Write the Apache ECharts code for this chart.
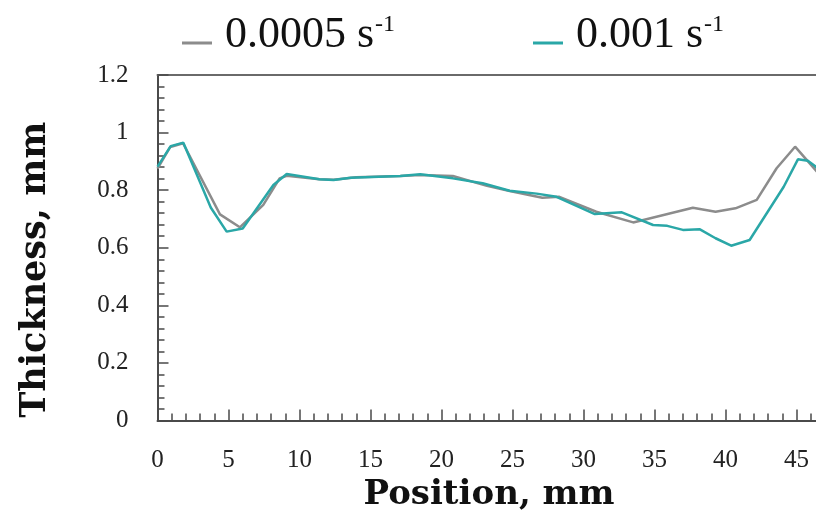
<!DOCTYPE html>
<html>
<head>
<meta charset="utf-8">
<script src="https://cdn.jsdelivr.net/npm/echarts@6/dist/echarts.min.js"></script>
<style>html,body{margin:0;padding:0;background:#fff;}#c{width:816px;height:518px;}</style>
</head>
<body>
<div id="c"></div>
<script>
// Series 1: strain rate 0.0005 s-1
const posSlow = [0, 0.9, 1.8, 4.4, 5.8, 7.45, 8.6, 9.1, 11.4, 12.4, 14, 17.1, 18.5, 20.8, 23.2, 24.8, 27.1, 28.3, 30.9, 33.5, 37.7, 39.3, 40.7, 42.2, 43.6, 44.9, 46.3, 46.6];
const thickSlow = [0.875, 0.95, 0.963, 0.716, 0.671, 0.749, 0.841, 0.85, 0.838, 0.836, 0.845, 0.849, 0.853, 0.849, 0.815, 0.797, 0.774, 0.777, 0.725, 0.688, 0.739, 0.725, 0.737, 0.766, 0.876, 0.951, 0.872, 0.855];
// Series 2: strain rate 0.001 s-1
const posFast = [0, 0.93, 1.82, 3.75, 4.87, 6.0, 8.16, 9.1, 11.4, 12.4, 13.6, 17.1, 18.5, 20.8, 22.9, 24.8, 26.7, 28.1, 30.8, 32.7, 34.9, 35.9, 37.0, 38.2, 39.3, 40.4, 41.7, 44.1, 45.1, 45.8, 46.3, 46.6];
const thickFast = [0.882, 0.953, 0.965, 0.74, 0.656, 0.667, 0.818, 0.856, 0.838, 0.835, 0.843, 0.849, 0.855, 0.841, 0.824, 0.798, 0.788, 0.777, 0.717, 0.723, 0.679, 0.676, 0.662, 0.664, 0.633, 0.607, 0.627, 0.812, 0.907, 0.902, 0.884, 0.87];
const seriesNames = ['0.0005 s-1', '0.001 s-1'];
const legendLabels = ['0.0005 s', '0.001 s'];
const legendSup = '-1';
const xTitle = 'Position, mm';
const yTitle = 'Thickness, mm';

const slowData = posSlow.map((x, i) => [x, thickSlow[i]]);
const fastData = posFast.map((x, i) => [x, thickFast[i]]);

const serif = 'Liberation Serif';
const axisColor = '#4a4a4a';
const legendIcon = 'path://M0,0L0.01,0L0,0.01Z M0,18H30V21H0Z';
function legendFmt(name) {
  const i = seriesNames.indexOf(name);
  return '{a|' + legendLabels[i] + '}{b|' + legendSup + '}';
}
const legendText = {
  rich: {
    a: { fontFamily: serif, fontSize: 44, color: '#111', lineHeight: 46, verticalAlign: 'bottom', padding: [0, 0, 0, 8] },
    b: { fontFamily: serif, fontSize: 24, color: '#111', lineHeight: 46, verticalAlign: 'top', padding: [2, 0, 0, 1] }
  }
};

const chart = echarts.init(document.getElementById('c'), null, { renderer: 'canvas' });
chart.setOption({
  animation: false,
  backgroundColor: '#fff',
  legend: [
    { data: [seriesNames[0]], left: 177, top: 6, icon: legendIcon, itemWidth: 30, itemHeight: 21, formatter: legendFmt, textStyle: legendText, selectedMode: false },
    { data: [seriesNames[1]], left: 528, top: 6, icon: legendIcon, itemWidth: 30, itemHeight: 21, formatter: legendFmt, textStyle: legendText, selectedMode: false }
  ],
  grid: { left: 157.5, top: 75, width: 710, height: 345.5, containLabel: false, outerBoundsMode: 'none' },
  xAxis: [{
    type: 'value', min: 0, max: 50, interval: 5,
    name: xTitle, nameLocation: 'middle', nameGap: 58,
    nameTextStyle: { fontFamily: 'DejaVu Serif', fontWeight: 'bold', fontSize: 34, color: '#111', padding: [0, 47, 0, 0] },
    axisLine: { show: true, lineStyle: { color: axisColor, width: 2 } },
    axisTick: { show: true, inside: true, length: 11, lineStyle: { color: axisColor, width: 1.5 } },
    minorTick: { show: true, splitNumber: 5, length: 7, lineStyle: { color: axisColor, width: 1.5 } },
    axisLabel: { margin: 27, fontFamily: serif, fontSize: 25, color: '#222' },
    splitLine: { show: false }
  }, {
    type: 'value', min: 0, max: 50, position: 'top',
    axisLine: { show: true, onZero: false, lineStyle: { color: '#6a6a6a', width: 2 } },
    axisTick: { show: false }, axisLabel: { show: false }, splitLine: { show: false }
  }],
  yAxis: {
    type: 'value', min: 0, max: 1.2, interval: 0.2,
    name: yTitle, nameLocation: 'middle', nameGap: 104, nameRotate: 90,
    nameTextStyle: { fontFamily: 'DejaVu Serif', fontWeight: 'bold', fontSize: 35, color: '#111', padding: [0, 44, 0, 0] },
    axisLine: { show: true, lineStyle: { color: axisColor, width: 2 } },
    axisTick: { show: true, inside: true, length: 11, lineStyle: { color: axisColor, width: 1.5 } },
    minorTick: { show: true, splitNumber: 5, length: 7, lineStyle: { color: axisColor, width: 1.5 } },
    axisLabel: { margin: 29, fontFamily: serif, fontSize: 25, color: '#222' },
    splitLine: { show: false }
  },
  series: [
    { name: seriesNames[0], type: 'line', data: slowData, showSymbol: false, symbol: 'none', lineStyle: { color: '#8c8c8c', width: 2.5 }, itemStyle: { color: '#8c8c8c' }, z: 2 },
    { name: seriesNames[1], type: 'line', data: fastData, showSymbol: false, symbol: 'none', lineStyle: { color: '#2aa7a7', width: 2.5 }, itemStyle: { color: '#2aa7a7' }, z: 3 }
  ]
});
</script>
</body>
</html>
